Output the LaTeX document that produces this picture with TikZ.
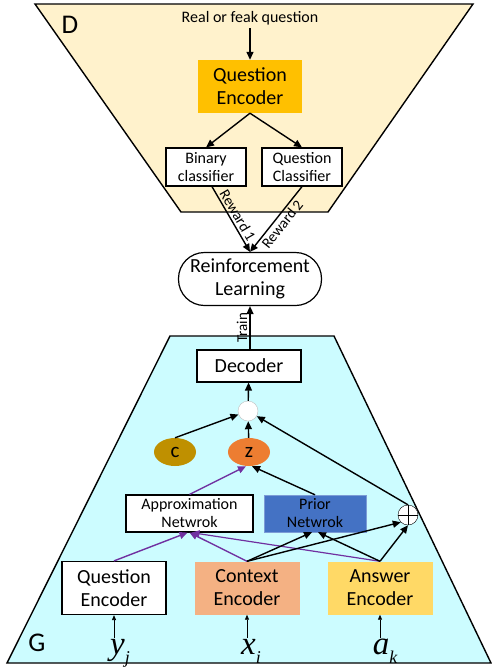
\documentclass[tikz,border=0pt]{standalone}
\usepackage{fontspec}
\setmainfont{Carlito}
\newfontfamily\inputfont{Liberation Serif}
\usepackage{tikz}
\usetikzlibrary{positioning}
\usetikzlibrary{calc}
\usetikzlibrary{shapes.geometric}
\usetikzlibrary{arrows.meta}

\definecolor{dpart}{HTML}{FFF2CC}
\definecolor{gpart}{HTML}{CCFCFF}
\definecolor{qgold}{HTML}{FFC000}
\definecolor{cgold}{HTML}{BF9000}
\definecolor{zorange}{HTML}{ED7D31}
\definecolor{priorblue}{HTML}{4472C4}
\definecolor{ctxsalmon}{HTML}{F4B183}
\definecolor{ansyellow}{HTML}{FFD966}
\definecolor{approxpurple}{HTML}{7030A0}

% input symbol with a low subscript
\newcommand*{\inputvar}[2]{{\itshape #1}\raisebox{-9pt}{\fontsize{18}{18}\selectfont\itshape #2}}

\begin{document}
\begin{tikzpicture}[
    x=1pt, y=-1pt,
    bigtext/.style={font=\fontsize{20}{23}\selectfont},
    smalltext/.style={font=\fontsize{16}{18}\selectfont},
    block/.style={bigtext, align=center, inner sep=0pt, minimum width=104, minimum height=53},
    cls/.style={smalltext, draw, line width=1.2pt, fill=white, align=center, inner sep=0pt, minimum width=80, minimum height=38},
    net/.style={smalltext, align=center, inner sep=0pt, minimum height=37},
    latent/.style={ellipse, font=\fontsize{21}{22}\selectfont, inner sep=0pt, minimum width=42, minimum height=28},
    arr/.style={-{Triangle[length=8pt,width=7pt]}, line width=1.4pt},
    thinarr/.style={-{Triangle[length=5pt,width=4pt]}, line width=0.8pt},
    inp/.style={font=\inputfont\fontsize{33}{34}\selectfont, inner sep=1pt}
]

    \useasboundingbox (0,0) rectangle (492,670);

    % Discriminator
    \filldraw[fill=dpart, line width=1.4pt] (35,4) -- (473,4) -- (328,212) -- (181,212) -- cycle;
    \node[font=\fontsize{27}{28}\selectfont] (dlbl) at (70,25) {D};

    \node[smalltext] (src) at (250,18) {Real or feak question};
    \node[block, fill=qgold] (qenc) at (250,86.5) {Question\\Encoder};
    \node[cls] (bin) at (206,167) {Binary\\classifier};
    \node[cls] (qcls) at (302,167) {Question\\Classifier};

    \draw[arr] (src) -- (qenc);
    \draw[arr] (qenc.south) -- (bin.north);
    \draw[arr] (qenc.south) -- (qcls.north);

    % Generator
    \filldraw[fill=gpart, line width=1.4pt] (170,336) -- (334,336) -- (491,663) -- (7,663) -- cycle;
    \node[font=\fontsize{27}{28}\selectfont] (glbl) at (37,643) {G};

    % Reinforcement learning
    \node[bigtext, draw, line width=1.2pt, fill=white, rounded corners=26, align=center,
        minimum width=143, minimum height=53, inner sep=0pt] (rl) at (250,279) {Reinforcement\\Learning};

    \draw[arr] ([xshift=6]bin.south) -- node[midway, above, sloped, font=\fontsize{15}{16}\selectfont, inner sep=2pt] {Reward 1} (rl.north);
    \draw[arr] (qcls.south) -- node[midway, below, sloped, font=\fontsize{15}{16}\selectfont, inner sep=2pt] {Reward 2} (rl.north);

    \node[block, draw, line width=1.2pt, fill=white, minimum height=32] (dec) at (249,366) {Decoder};
    \draw[arr] (dec.north -| rl.south) -- node[midway, above, sloped, font=\fontsize{15}{16}\selectfont, inner sep=2pt] {Train} (rl.south);

    % Latent variables
    \node[circle, draw=black!25, fill=white, minimum size=20, inner sep=0pt] (mrg) at (248,411) {};
    \node[latent, fill=cgold] (cvar) at (175,452) {c};
    \node[latent, fill=zorange] (zvar) at (249,452) {z};

    \node[net, draw, line width=1.2pt, fill=white, minimum width=127] (approx) at (189.5,513.5) {Approximation\\Netwrok};
    \node[net, draw=priorblue!70, fill=priorblue, minimum width=102] (prior) at (315,513.5) {Prior\\Netwrok};
    \node[circle, draw, fill=white, minimum size=20, inner sep=0pt,
        path picture={\draw[line width=0.8pt] (path picture bounding box.north) -- (path picture bounding box.south)
            (path picture bounding box.west) -- (path picture bounding box.east);}] (plus) at (408,515) {};

    \draw[arr] (mrg) -- (dec);
    \draw[arr] (cvar.north) -- (mrg);
    \draw[arr] (zvar) -- (mrg);
    \draw[arr] (plus.north) -- (mrg);
    \draw[arr, approxpurple] (approx.north) -- ([xshift=-3]zvar.south);
    \draw[arr] (prior.north) -- ([xshift=3]zvar.south);

    % Encoders
    \node[block, draw, line width=1.2pt, fill=white] (qenc2) at (114,588) {Question\\Encoder};
    \node[block, fill=ctxsalmon, minimum width=105] (cenc) at (247,588) {Context\\Encoder};
    \node[block, fill=ansyellow, minimum width=105] (aenc) at (380,588) {Answer\\Encoder};

    \draw[arr, approxpurple] (qenc2.north) -- ([xshift=-2]approx.south);
    \draw[arr, approxpurple] (cenc.north) -- (approx.south);
    \draw[arr, approxpurple, line width=1.2pt] (aenc.north) -- ([xshift=2]approx.south);
    \draw[arr] (cenc.north) -- ([xshift=-3]prior.south);
    \draw[arr] (cenc.north) -- (plus.south west);
    \draw[arr] (aenc.north) -- ([xshift=3]prior.south);
    \draw[arr] (aenc.north) -- (plus.south);

    % Inputs
    \node[inp] (yin) at (120,653) {\inputvar{y}{j}};
    \node[inp] (xin) at (251,651) {\inputvar{x}{i}};
    \node[inp] (ain) at (385,651) {\inputvar{a}{k}};

    \draw[thinarr] (yin.north -| qenc2.south) -- (qenc2.south);
    \draw[thinarr] (xin.north -| cenc.south) -- (cenc.south);
    \draw[thinarr] (ain.north -| aenc.south) -- (aenc.south);

\end{tikzpicture}
\end{document}
